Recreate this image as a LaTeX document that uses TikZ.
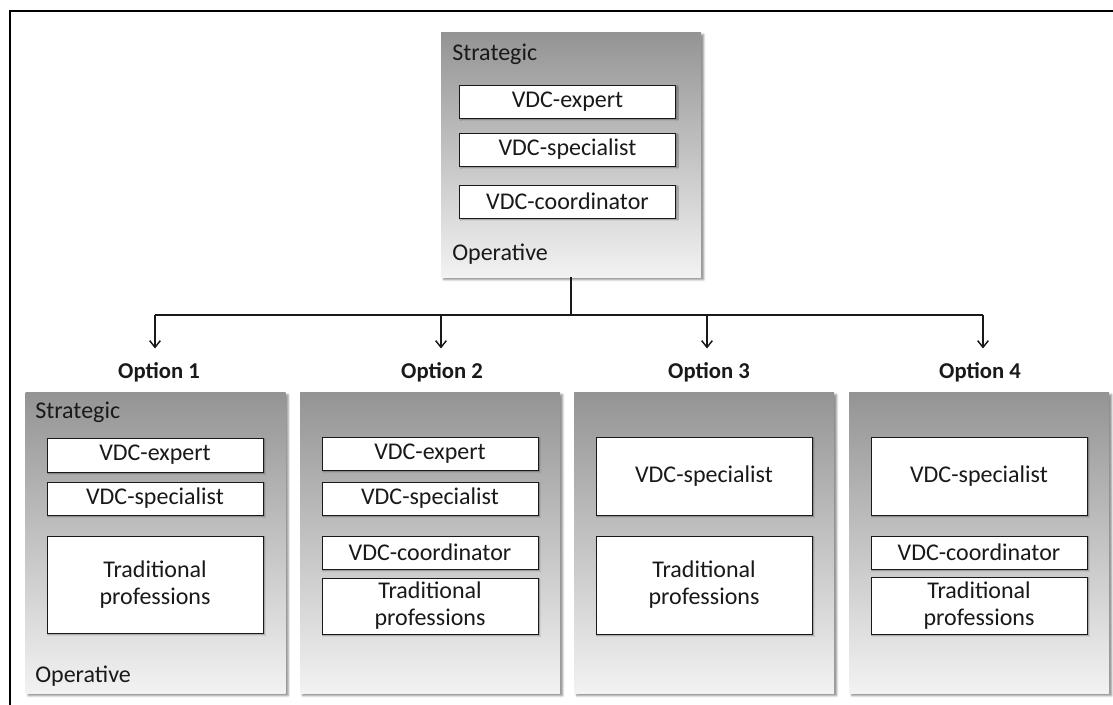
\documentclass[tikz,border=0pt]{standalone}
\usepackage{fontspec}
\setmainfont{Carlito}
\usetikzlibrary{arrows.meta,shadows.blur}

\definecolor{paneltop}{gray}{0.58}
\definecolor{panelbottom}{gray}{0.95}
\definecolor{ink}{gray}{0.1}

\tikzset{
  panel/.style={rectangle, inner sep=0pt, minimum width=195pt,
    top color=paneltop, bottom color=panelbottom, draw=none,
    blur shadow={shadow xshift=2pt, shadow yshift=-2pt,
      shadow blur radius=1.5pt, shadow opacity=45}},
  role/.style={rectangle, draw=ink, line width=0.7pt, fill=white,
    inner sep=0pt, minimum width=162pt, align=center, text=ink,
    font=\fontsize{18}{20.25}\selectfont,
    blur shadow={shadow xshift=1.2pt, shadow yshift=-1.2pt,
      shadow blur radius=1pt, shadow opacity=40}},
  level/.style={anchor=base west, inner sep=0pt, text=ink,
    font=\fontsize{18}{20}\selectfont},
  optlabel/.style={anchor=base, inner xsep=0pt, inner ysep=10pt, text=ink,
    font=\fontsize{17}{20}\selectfont\bfseries},
  bus/.style={draw=ink, line width=1.1pt},
  arr/.style={bus, -{Straight Barb[length=5pt,width=8pt]}},
  frame/.style={draw=black, line width=1.4pt}
}

\begin{document}
\begin{tikzpicture}[x=0.75pt, y=-0.75pt]
  \useasboundingbox (0,0) rectangle (1113,704);
  \draw[frame] (10,710) -- (10,11) -- (1120,11);

  % overall organisation
  \node[panel, minimum height=183.75pt] (top) at (571,154.5) {};
  \node[level] (topstr) at (452,60) {Strategic};
  \node[level] (topop) at (452,260) {Operative};
  \node[role, minimum height=24.75pt] (texp) at (567.5,101.5) {VDC-expert};
  \node[role, minimum height=24.75pt] (tspec) at (567.5,149.5) {VDC-specialist};
  \node[role, minimum height=24.75pt] (tcoord) at (567.5,201.5) {VDC-coordinator};

  % the four options
  \node[panel, minimum height=225.75pt] (opt1) at (155.5,542.5) {};
  \node[panel, minimum height=225.75pt] (opt2) at (430,542.5) {};
  \node[panel, minimum height=225.75pt] (opt3) at (704,542.5) {};
  \node[panel, minimum height=225.75pt] (opt4) at (979,542.5) {};

  \node[optlabel] (lab1) at (159,378) {Option 1};
  \node[optlabel] (lab2) at (442,378) {Option 2};
  \node[optlabel] (lab3) at (709,378) {Option 3};
  \node[optlabel] (lab4) at (980,378) {Option 4};

  % option 1
  \node[level] (str1) at (35,418) {Strategic};
  \node[level] (op1) at (35,682) {Operative};
  \node[role, minimum height=25.5pt] (exp1) at (155,455) {VDC-expert};
  \node[role, minimum height=24.75pt] (spec1) at (155,498.5) {VDC-specialist};
  \node[role, minimum height=72.75pt] (trad1) at (155,584.5) {Traditional\\professions};

  % option 2
  \node[role, minimum height=24.75pt] (exp2) at (430,453.5) {VDC-expert};
  \node[role, minimum height=24.75pt] (spec2) at (430,498.5) {VDC-specialist};
  \node[role, minimum height=24.75pt] (coord2) at (430,552.5) {VDC-coordinator};
  \node[role, minimum height=42pt] (trad2) at (430,606) {Traditional\\professions};

  % option 3
  \node[role, minimum height=58.5pt] (spec3) at (704,476) {VDC-specialist};
  \node[role, minimum height=73.5pt] (trad3) at (704,585) {Traditional\\professions};

  % option 4
  \node[role, minimum height=58.5pt] (spec4) at (979,476) {VDC-specialist};
  \node[role, minimum height=24.75pt] (coord4) at (979,552.5) {VDC-coordinator};
  \node[role, minimum height=42.75pt] (trad4) at (979,605.5) {Traditional\\professions};

  % connectors
  \coordinate (b1) at (155,315);
  \coordinate (b2) at (441,315);
  \coordinate (b3) at (707,315);
  \coordinate (b4) at (983,315);
  \draw[bus] (top.south) -- (top.south |- b1);
  \draw[bus] (b1) -- (b4);
  \draw[arr] (b1) -- (b1 |- lab1.north);
  \draw[arr] (b2) -- (b2 |- lab2.north);
  \draw[arr] (b3) -- (b3 |- lab3.north);
  \draw[arr] (b4) -- (b4 |- lab4.north);
\end{tikzpicture}
\end{document}
